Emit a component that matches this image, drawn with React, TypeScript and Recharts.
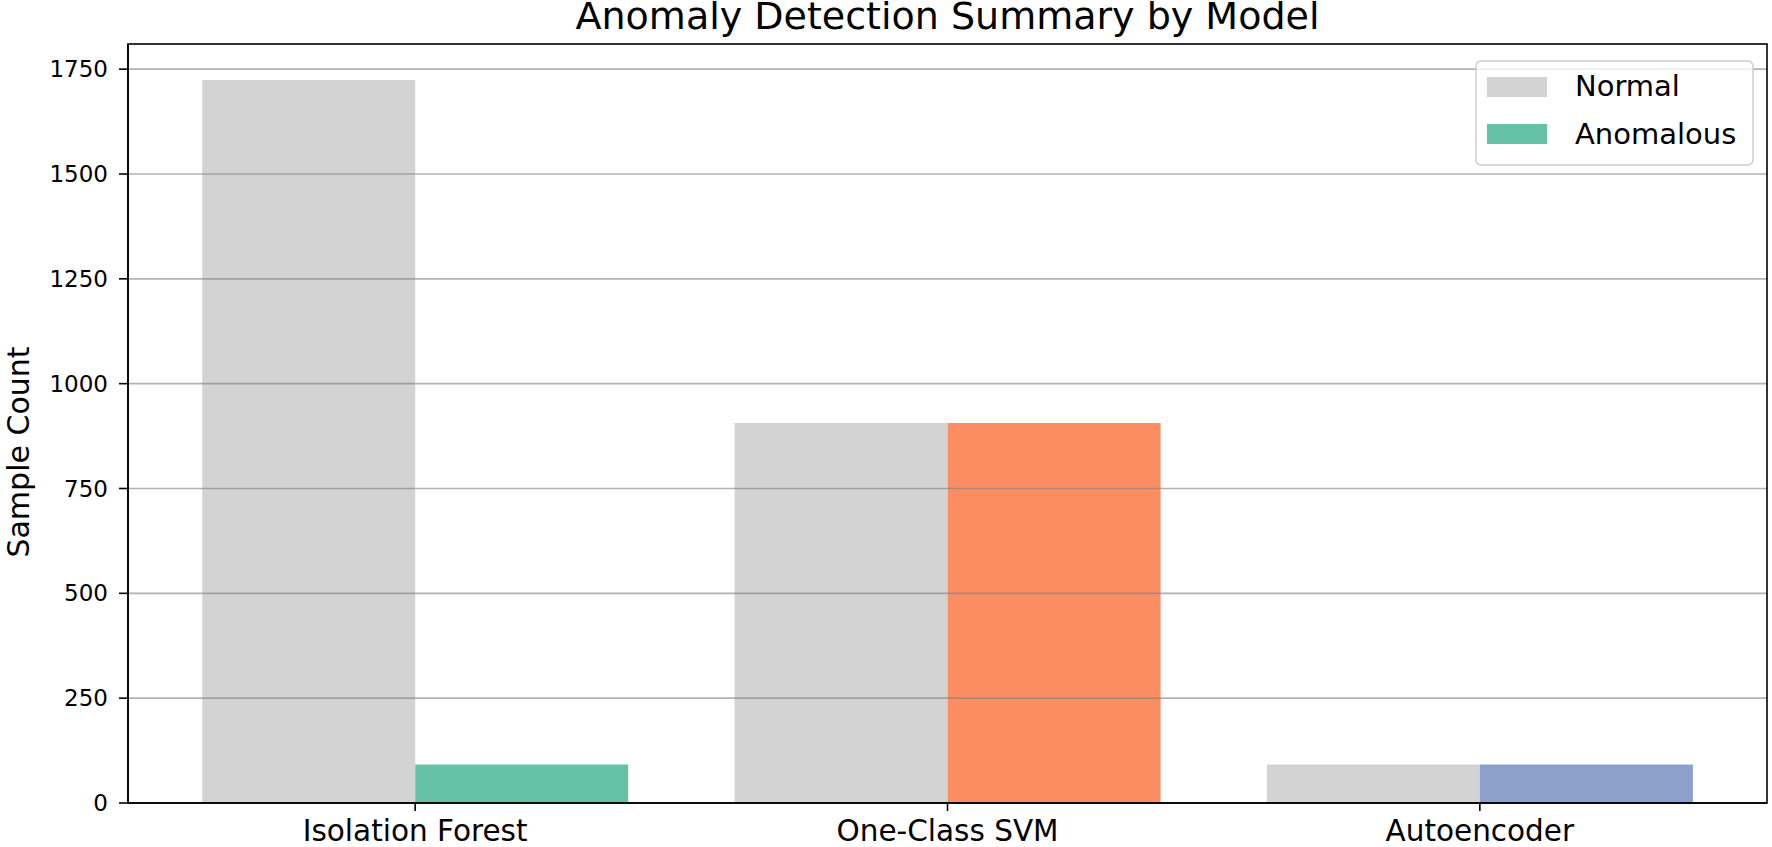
import React from "react";
import { BarChart, Bar, XAxis, YAxis, Cell, ReferenceLine } from "recharts";

const models = ["Isolation Forest", "One-Class SVM", "Autoencoder"];
const normalCounts = [1724, 906, 92];
const anomalousCounts = [92, 906, 92];
const anomalyColors = ["#66c2a5", "#fc8d62", "#8da0cb"];
const yTicks = [0, 250, 500, 750, 1000, 1250, 1500, 1750];
const legendNames = ["Normal", "Anomalous"];
const legendColors = ["#d3d3d3", "#66c2a5"];

const data = models.map((model, i) => ({
  model,
  normal: normalCounts[i],
  anomalous: anomalousCounts[i],
}));

const W = 1772;
const H = 847;
const FONT = "'DejaVu Sans', sans-serif";

// plot box (matches the axes frame)
const PLOT = { left: 128, top: 44, right: 1767, bottom: 803 };

const XTick = (props: any) => {
  const { x, y, payload } = props;
  return (
    <text
      x={x}
      y={y}
      dy={28}
      textAnchor="middle"
      fontSize={29.5}
      fill="#000"
      fontFamily={FONT}
    >
      {payload.value}
    </text>
  );
};

export default function App() {
  return (
    <div
      style={{
        position: "fixed",
        left: 0,
        top: 0,
        width: W,
        height: H,
        background: "#fff",
        fontFamily: FONT,
      }}
    >
      <BarChart
        width={W}
        height={H}
        data={data}
        margin={{ top: PLOT.top, right: W - PLOT.right, bottom: 0, left: 0 }}
        barGap={0}
        barCategoryGap="10%"
      >
        <XAxis
          dataKey="model"
          height={H - PLOT.bottom}
          padding={{ left: 21, right: 21 }}
          interval={0}
          axisLine={{ stroke: "#000", strokeWidth: 1.6 }}
          tickLine={{ stroke: "#000", strokeWidth: 1.6 }}
          tickSize={8}
          tick={<XTick />}
        />
        <YAxis
          domain={[0, 1810]}
          ticks={yTicks}
          width={PLOT.left}
          axisLine={{ stroke: "#000", strokeWidth: 1.6 }}
          tickLine={{ stroke: "#000", strokeWidth: 1.6 }}
          tickSize={9}
          tickMargin={11}
          tick={{ fontSize: 23, fill: "#000", fontFamily: FONT }}
        />
        <Bar dataKey="normal" fill="#d3d3d3" isAnimationActive={false} />
        <Bar dataKey="anomalous" isAnimationActive={false}>
          {data.map((d, i) => (
            <Cell key={`cell-${i}`} fill={anomalyColors[i]} />
          ))}
        </Bar>
        {yTicks.slice(1).map((t) => (
          <ReferenceLine
            key={t}
            y={t}
            stroke="#7f7f7f"
            strokeOpacity={0.6}
            strokeWidth={1.6}
          />
        ))}
      </BarChart>

      <svg
        width={W}
        height={H}
        style={{ position: "absolute", left: 0, top: 0, pointerEvents: "none" }}
      >
        <rect
          x={PLOT.left}
          y={PLOT.top}
          width={PLOT.right - PLOT.left}
          height={PLOT.bottom - PLOT.top}
          fill="none"
          stroke="#000"
          strokeWidth={1.6}
        />
        <text
          x={(PLOT.left + PLOT.right) / 2}
          y={29}
          textAnchor="middle"
          fontSize={38}
          fill="#000"
          fontFamily={FONT}
        >
          Anomaly Detection Summary by Model
        </text>
        <text
          x={29}
          y={452}
          transform="rotate(-90, 29, 452)"
          textAnchor="middle"
          fontSize={30}
          fill="#000"
          fontFamily={FONT}
        >
          Sample Count
        </text>
        <rect
          x={1476}
          y={61}
          width={277}
          height={104}
          rx={5}
          fill="#fff"
          fillOpacity={0.8}
          stroke="#cccccc"
          strokeWidth={1.4}
        />
        {legendNames.map((name, i) => (
          <g key={name}>
            <rect
              x={1487}
              y={77 + i * 47}
              width={60}
              height={20}
              fill={legendColors[i]}
            />
            <text
              x={1575}
              y={96 + i * 48}
              fontSize={29}
              fill="#000"
              fontFamily={FONT}
            >
              {name}
            </text>
          </g>
        ))}
      </svg>
    </div>
  );
}
